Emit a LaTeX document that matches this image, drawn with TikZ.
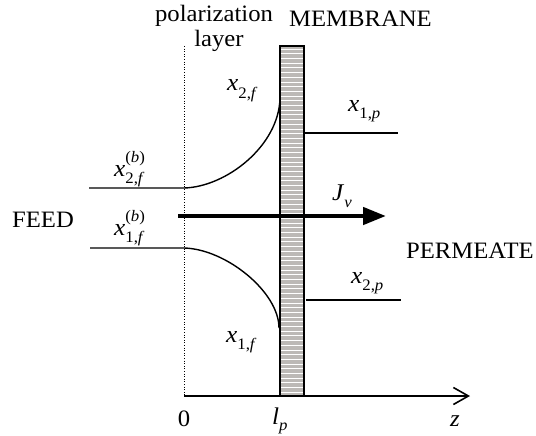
\documentclass[tikz,border=0pt]{standalone}
\usepackage{fontspec}
\setmainfont{Liberation Serif}[FakeStretch=1.05]
\usetikzlibrary{positioning,arrows.meta,calc}
\definecolor{MembraneGrey}{RGB}{188,185,182}
\tikzset{
  profile/.style={line width=1.4pt},
  flux/.style={-{Triangle[length=23pt,width=17pt]},line width=4.5pt},
  zaxis/.style={-{Straight Barb[length=15pt,width=17pt]},line width=1.6pt},
  txt/.style={font=\fontsize{23.5}{26}\selectfont,inner sep=0pt},
  sym/.style={font=\fontsize{24}{26}\selectfont,inner sep=0pt,anchor=base west}
}
\newcommand{\subl}[1]{\raisebox{-0.32em}{\fontsize{16}{16}\selectfont #1}}
\newcommand{\supl}[1]{\raisebox{0.55em}{\fontsize{16}{16}\selectfont #1}}
\newcommand{\conc}[2]{\textit{x}\subl{#1,\textit{#2}}}
\newcommand{\bulk}[2]{\textit{x}\rlap{\supl{(\textit{b})}}\subl{#1,\textit{#2}}}

\begin{document}
\begin{tikzpicture}[x=1pt,y=-1pt]
  \useasboundingbox (0,0) rectangle (536,436);
  % membrane
  \fill[MembraneGrey] (280,46) rectangle (304,396);
  \foreach \y in {49,53.7,...,394}
    \draw[white,line width=0.6pt] (281,\y) -- (303,\y);
  \draw[line width=1.5pt] (280,46) rectangle (304,396);
  \coordinate (lp) at (280,396);
  % boundary of the polarization layer
  \coordinate (top0) at (184,46);
  \coordinate (o) at (184,396);
  \draw[dotted,line width=0.6pt] (top0) -- (o);
  \draw[zaxis] (o) -- (470,396) coordinate (zend);
  % feed side profiles
  \coordinate (f2a) at (89,188);
  \coordinate (f2b) at (184,188);
  \coordinate (f2m) at (280,98);
  \coordinate (f1a) at (90,248);
  \coordinate (f1b) at (184,248);
  \coordinate (f1m) at (279,328);
  \draw[profile] (f2a) -- (f2b) .. controls (226,187) and (279,146) .. (f2m);
  \draw[profile] (f1a) -- (f1b) .. controls (226,249) and (279,292) .. (f1m);
  % permeate side
  \coordinate (p1a) at (304,133);
  \coordinate (p1b) at (398,133);
  \coordinate (p2a) at (306,300);
  \coordinate (p2b) at (401,300);
  \draw[profile] (p1a) -- (p1b);
  \draw[profile] (p2a) -- (p2b);
  % volume flux
  \coordinate (jin) at (178,216);
  \coordinate (jout) at (386,216);
  \draw[flux] (jin) -- (jout);
  % labels
  \node[txt,anchor=base] (pol) at (214,22) {polarization};
  \node[txt,anchor=base] (layer) at (219,47) {layer};
  \node[txt,anchor=base west] (memb) at (289,27) {MEMBRANE};
  \node[txt,anchor=base west] (feed) at (12,227) {FEED};
  \node[txt,anchor=base west] (perm) at (406,258) {PERMEATE};
  \node[txt,anchor=base] (zero) at (184,426) {0};
  \node[sym] (lpl) at (272,424) {\textit{l}\raisebox{-0.25em}{\fontsize{16}{16}\selectfont\textit{p}}};
  \node[txt,anchor=base] (zl) at (455,426) {\textit{z}};
  \node[sym] (jv) at (332,200) {\textit{J}\subl{\textit{v}}};
  \node[sym] (x2f) at (227,91) {\conc{2}{f}};
  \node[sym] (x1p) at (348,111) {\conc{1}{p}};
  \node[sym] (x2p) at (351,283) {\conc{2}{p}};
  \node[sym] (x1f) at (226,342) {\conc{1}{f}};
  \node[sym] (x2fb) at (114,176) {\bulk{2}{f}};
  \node[sym] (x1fb) at (114,235) {\bulk{1}{f}};
\end{tikzpicture}
\end{document}
